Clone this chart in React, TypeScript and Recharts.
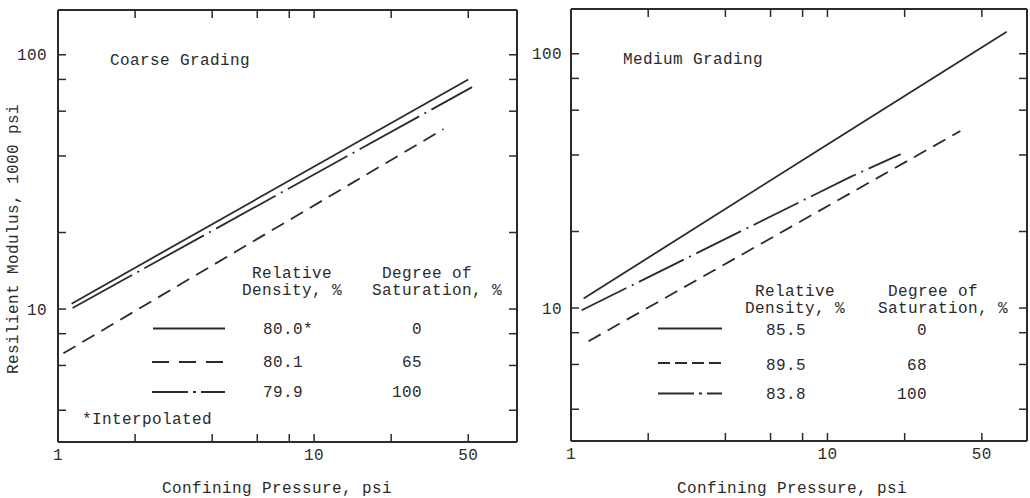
import React from 'react';
import { LineChart, Line, XAxis, YAxis } from 'recharts';

const FONT = '"Liberation Mono", "DejaVu Sans Mono", monospace';
const INK = '#2b2b2b';

// Confining pressure (psi) -> resilient modulus (1000 psi), both log scale
const coarseDry = [{ p: 1.13, m: 10.5 }, { p: 40, m: 80 }];
const coarsePartial = [{ p: 1.05, m: 6.7 }, { p: 32, m: 51 }];
const coarseSaturated = [{ p: 1.14, m: 10.1 }, { p: 41.4, m: 74.6 }];

const mediumDry = [{ p: 1.12, m: 10.9 }, { p: 10, m: 44 }, { p: 50, m: 122 }];
const mediumPartial = [{ p: 1.17, m: 7.4 }, { p: 33, m: 49.7 }];
const mediumSaturated = [{ p: 1.1, m: 9.8 }, { p: 12.3, m: 32.8 }, { p: 19.3, m: 40.3 }];

// legend table
const coarseDensity = ['80.0*', '80.1', '79.9'];
const coarseSaturation = ['0', '65', '100'];
const mediumDensity = ['85.5', '89.5', '83.8'];
const mediumSaturation = ['0', '68', '100'];

// axis ticks (the last x tick is printed as "50")
const xTicks = [1, 2, 4, 6, 8, 10, 20, 40];
const xTickText: Record<number, string> = { 1: '1', 10: '10', 40: '50' };
const yTicks = [4, 6, 8, 10, 20, 40, 60, 80, 100];
const yTickText: Record<number, string> = { 10: '10', 100: '100' };

const DASH = '14 8';

const tickStyle = { fontSize: 16, fontFamily: FONT, fill: INK, letterSpacing: 0.4 };
const lineStyle = { stroke: INK, strokeWidth: 1.5 };
const frame = { stroke: INK, strokeWidth: 2 };

type Series = { data: { p: number; m: number }[]; dash?: string };

interface PanelProps {
  left: number;
  width: number;
  top: number;
  yWidth: number;
  xHeight: number;
  xMax: number;
  yMargin: number;
  series: Series[];
}

const Panel: React.FC<PanelProps> = ({ left, width, top, yWidth, xHeight, xMax, yMargin, series }) => (
  <div style={{ position: 'absolute', left, top: 0 }}>
    <LineChart width={width} height={498} margin={{ top, right: 2, bottom: 0, left: 0 }}>
      <XAxis
        dataKey="p"
        type="number"
        scale="log"
        domain={[1, xMax]}
        allowDataOverflow
        ticks={xTicks}
        interval={0}
        height={xHeight}
        tickSize={-8}
        tickMargin={15}
        tickFormatter={(v: number) => xTickText[v] ?? ''}
        tick={tickStyle}
        axisLine={frame}
        tickLine={lineStyle}
      />
      <XAxis
        xAxisId="top"
        orientation="top"
        dataKey="p"
        type="number"
        scale="log"
        domain={[1, xMax]}
        allowDataOverflow
        ticks={xTicks}
        interval={0}
        height={1}
        tickSize={-8}
        tickFormatter={() => ''}
        axisLine={frame}
        tickLine={lineStyle}
      />
      <YAxis
        type="number"
        scale="log"
        domain={[3, 150]}
        allowDataOverflow
        ticks={yTicks}
        interval={0}
        width={yWidth}
        tickSize={-8}
        tickMargin={yMargin}
        tickFormatter={(v: number) => yTickText[v] ?? ''}
        tick={tickStyle}
        axisLine={frame}
        tickLine={lineStyle}
      />
      <YAxis
        yAxisId="right"
        orientation="right"
        type="number"
        scale="log"
        domain={[3, 150]}
        allowDataOverflow
        ticks={yTicks}
        interval={0}
        width={1}
        tickSize={-8}
        tickFormatter={() => ''}
        axisLine={frame}
        tickLine={lineStyle}
      />
      {series.map((s, i) => (
        <Line
          key={i}
          data={s.data}
          dataKey="m"
          type="linear"
          stroke={INK}
          strokeWidth={1.8}
          strokeDasharray={s.dash}
          dot={false}
          activeDot={false}
          isAnimationActive={false}
        />
      ))}
    </LineChart>
  </div>
);

const T: React.FC<{ x: number; y: number; anchor?: 'start' | 'middle' | 'end'; children: React.ReactNode }> = ({
  x, y, anchor = 'start', children,
}) => (
  <text x={x} y={y} textAnchor={anchor} fontFamily={FONT} fontSize={16} letterSpacing={0.4} fill={INK}>
    {children}
  </text>
);

const Sample: React.FC<{ x1: number; x2: number; y: number; dash?: string }> = ({ x1, x2, y, dash }) => (
  <line x1={x1} x2={x2} y1={y} y2={y} stroke={INK} strokeWidth={2} strokeDasharray={dash} />
);

export default function App() {
  const coarseDashDot = '68 6 2 6';
  const mediumDashDot = '50 6 2 6';
  const sampleDashDot = '36 5 3 5';
  return (
    <div style={{ position: 'absolute', left: 0, top: 0, width: 1030, height: 498, background: '#fff' }}>
      <Panel
        left={0}
        width={520}
        top={9}
        yWidth={58}
        xHeight={56}
        xMax={62}
        yMargin={19}
        series={[
          { data: coarseDry },
          { data: coarsePartial, dash: DASH },
          { data: coarseSaturated, dash: coarseDashDot },
        ]}
      />
      <Panel
        left={515}
        width={515}
        top={8}
        yWidth={56}
        xHeight={57}
        xMax={60}
        yMargin={17}
        series={[
          { data: mediumDry },
          { data: mediumPartial, dash: DASH },
          { data: mediumSaturated, dash: mediumDashDot },
        ]}
      />
      <svg width={1030} height={498} style={{ position: 'absolute', left: 0, top: 0, pointerEvents: 'none' }}>
        {/* left panel annotations */}
        <T x={110} y={65}>Coarse Grading</T>
        <T x={252} y={278}>Relative</T>
        <T x={242} y={294.5}>Density, %</T>
        <T x={382} y={278}>Degree of</T>
        <T x={372} y={294.5}>Saturation, %</T>
        {[333.5, 367, 397].map((y, i) => (
          <React.Fragment key={i}>
            <T x={263} y={y}>{coarseDensity[i]}</T>
            <T x={422} y={y} anchor="end">{coarseSaturation[i]}</T>
          </React.Fragment>
        ))}
        <Sample x1={153} x2={225} y={328.5} />
        <Sample x1={152} x2={224} y={362} dash="17 10" />
        <Sample x1={152} x2={225} y={392} dash={sampleDashDot} />
        <T x={82} y={423.5}>*Interpolated</T>
        <T x={277} y={493} anchor="middle">Confining Pressure, psi</T>
        <g transform="rotate(-90, 18, 239)">
          <T x={18} y={239} anchor="middle">Resilient Modulus, 1000 psi</T>
        </g>

        {/* right panel annotations */}
        <T x={623} y={64}>Medium Grading</T>
        <T x={755} y={296}>Relative</T>
        <T x={745} y={312.5}>Density, %</T>
        <T x={888} y={296}>Degree of</T>
        <T x={878} y={312.5}>Saturation, %</T>
        {[334.5, 369.5, 399].map((y, i) => (
          <React.Fragment key={i}>
            <T x={766} y={y}>{mediumDensity[i]}</T>
            <T x={927} y={y} anchor="end">{mediumSaturation[i]}</T>
          </React.Fragment>
        ))}
        <Sample x1={658} x2={722} y={328.5} />
        <Sample x1={658} x2={722} y={363} dash="12 5" />
        <Sample x1={658} x2={722} y={393.5} dash={sampleDashDot} />
        <T x={792} y={493} anchor="middle">Confining Pressure, psi</T>
      </svg>
    </div>
  );
}
